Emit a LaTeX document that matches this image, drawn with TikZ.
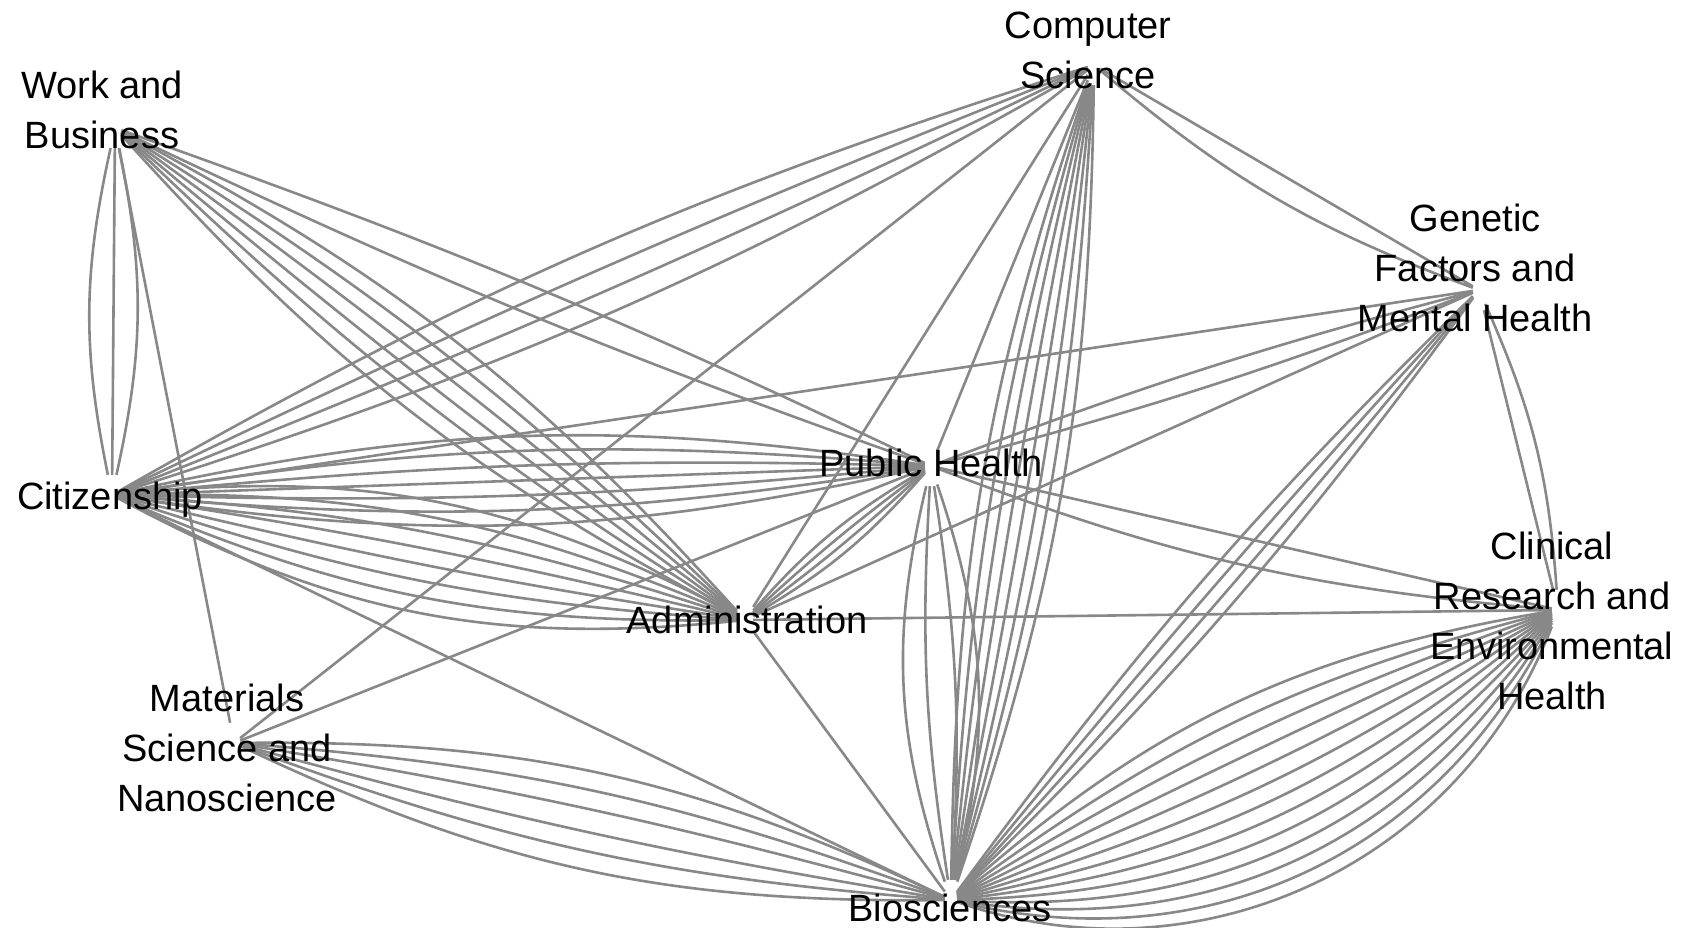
\documentclass[tikz,border=0pt]{standalone}
\usepackage{fontspec}
\setmainfont{Liberation Sans}
\definecolor{edgegray}{RGB}{136,136,136}
\begin{document}
\begin{tikzpicture}[x=1pt,y=-1pt,
  hub/.style={rectangle, minimum width=12pt, minimum height=40pt, inner sep=0pt},
  lbl/.style={align=center, font=\fontsize{38}{50}\selectfont, inner sep=0pt, text=black},
  edge/.style={draw=edgegray, line width=2.6pt}]
\useasboundingbox[fill=white] (0,0) rectangle (1683,927);
% hubs
\node[hub] (CS) at (1094,65) {};
\node[hub] (WB) at (115,128) {};
\node[hub] (GEN) at (1479,290) {};
\node[hub] (CIT) at (112,495) {};
\node[hub] (PH) at (931,466) {};
\node[hub, minimum width=16pt] (ADM) at (745,620) {};
\node[hub] (CLIN) at (1558,610) {};
\node[hub] (MAT) at (234,743) {};
\node[hub] (BIO) at (951,900) {};
% edges
\foreach \b in {-12,0,12} \draw[edge] (WB) to[bend left=\b] (CIT);
\draw[edge] (WB) -- (MAT);
\foreach \b in {-3,3} \draw[edge] (WB) to[bend left=\b] (PH);
\foreach \b in {-10,-6,-2,2,6,10} \draw[edge] (WB) to[bend left=\b] (ADM);
\foreach \b in {-6,-2,2,6} \draw[edge] (CS) to[bend left=\b] (CIT);
\draw[edge] (CS) -- (MAT);
\draw[edge] (CS) -- (ADM);
\draw[edge] (CS) -- (PH);
\foreach \b in {-9,-6.4,-3.9,-1.3,1.3,3.9,6.4,9} \draw[edge] (CS) to[bend left=\b] (BIO);
\foreach \b in {0,-10} \draw[edge] (CS) to[bend left=\b] (GEN);
\foreach \b in {0,10} \draw[edge] (GEN) to[bend left=\b] (CLIN);
\draw[edge] (GEN) -- (CIT);
\foreach \b in {-3,3} \draw[edge] (GEN) to[bend left=\b] (PH);
\draw[edge] (GEN) -- (ADM);
\foreach \b in {-4.5,-1.5,1.5,4.5} \draw[edge] (GEN) to[bend left=\b] (BIO);
\foreach \b in {-10.5,-7,-3.5,0,3.5,7,10.5} \draw[edge] (CIT) to[bend left=\b] (PH);
\foreach \b in {-17,-12.1,-7.3,-2.4,2.4,7.3,12.1,17} \draw[edge] (CIT) to[bend left=\b] (ADM);
\draw[edge] (CIT) -- (BIO);
\foreach \b in {-9,-3,3,9} \draw[edge] (PH) to[bend left=\b] (ADM);
\foreach \b in {-16,-6,6,16} \draw[edge] (PH) to[bend left=\b] (BIO);
\foreach \b in {0,-8} \draw[edge] (PH) to[bend left=\b] (CLIN);
\draw[edge] (ADM) -- (CLIN);
\draw[edge] (ADM) -- (BIO);
\foreach \b in {-13,-8,-3,3,8,13} \draw[edge] (MAT) to[bend left=\b] (BIO);
\draw[edge] (MAT) -- (PH);
\foreach \b in {-16,-11,-6,-1,4,9,14,19,24,29,34,39,44} \draw[edge] (CLIN) to[bend left=\b] (BIO);
% labels
\node[lbl] (lCS) at (1088,50) {Computer\\Science};
\node[lbl] (lWB) at (102,110) {Work and\\Business};
\node[lbl] (lGEN) at (1475,268) {Genetic\\Factors and\\Mental Health};
\node[lbl] (lCIT) at (110,500) {Citizenship};
\node[lbl] (lPH) at (931,463) {Public Health};
\node[lbl] (lADM) at (747,620) {Administration};
\node[lbl] (lCLIN) at (1552,621) {Clinical\\Research and\\Environmental\\Health};
\node[lbl] (lMAT) at (227,748) {Materials\\Science and\\Nanoscience};
\node[lbl] (lBIO) at (950,908) {Biosciences};
\end{tikzpicture}
\end{document}
